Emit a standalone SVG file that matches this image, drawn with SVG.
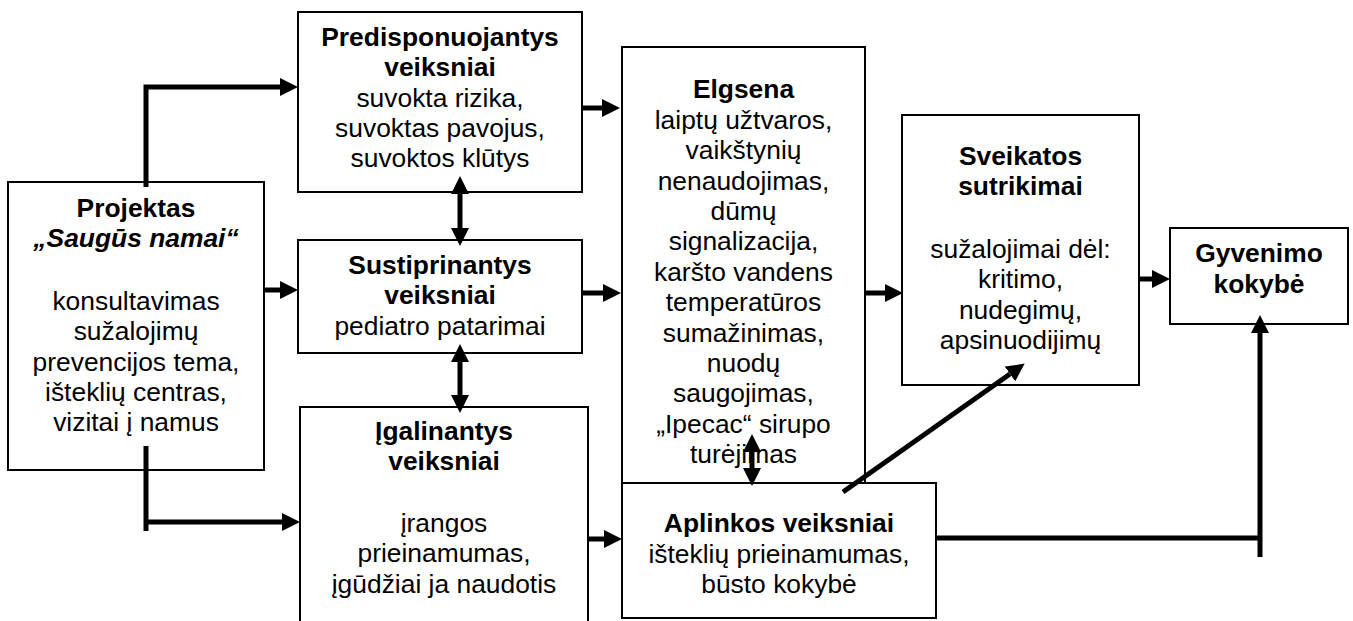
<svg xmlns="http://www.w3.org/2000/svg" width="1353" height="621" viewBox="0 0 1353 621">
  <style>
    .box { fill: #fff; stroke: #000; stroke-width: 2; }
    text { font-family: "Liberation Sans", Arial, sans-serif; font-size: 26.4px; fill: #000; text-anchor: middle; }
    .b { font-weight: bold; }
    .bi { font-weight: bold; font-style: italic; }
    .conn { fill: none; stroke: #000; stroke-width: 5; stroke-linejoin: miter; stroke-linecap: butt; }
  </style>
  <defs>
    <marker id="ah" viewBox="0 0 18 18" markerWidth="18" markerHeight="18" markerUnits="userSpaceOnUse" refX="0" refY="9" orient="auto-start-reverse">
      <path d="M0,0 L18,9 L0,18 z" fill="#000"/>
    </marker>
  </defs>
  <rect width="1353" height="621" fill="#fff"/>

  <g id="projektas">
    <rect class="box" x="8" y="182" width="256" height="288"/>
    <text x="136" y="217" class="b">Projektas</text>
    <text x="136" y="247" class="bi">„Saugūs namai“</text>
    <text x="136" y="310">konsultavimas</text>
    <text x="136" y="340">sužalojimų</text>
    <text x="136" y="371">prevencijos tema,</text>
    <text x="136" y="401">išteklių centras,</text>
    <text x="136" y="431">vizitai į namus</text>
  </g>

  <g id="predisponuojantys">
    <rect class="box" x="298" y="12" width="284" height="180"/>
    <text x="440" y="46" class="b">Predisponuojantys</text>
    <text x="440" y="76" class="b">veiksniai</text>
    <text x="440" y="107">suvokta rizika,</text>
    <text x="440" y="137">suvoktas pavojus,</text>
    <text x="440" y="167">suvoktos klūtys</text>
  </g>

  <g id="sustiprinantys">
    <rect class="box" x="298" y="240" width="284" height="113"/>
    <text x="440" y="274" class="b">Sustiprinantys</text>
    <text x="440" y="304" class="b">veiksniai</text>
    <text x="440" y="335">pediatro patarimai</text>
  </g>

  <g id="igalinantys">
    <rect class="box" x="300" y="407" width="288" height="220"/>
    <text x="444" y="440" class="b">Įgalinantys</text>
    <text x="444" y="470" class="b">veiksniai</text>
    <text x="444" y="532">įrangos</text>
    <text x="444" y="562">prieinamumas,</text>
    <text x="444" y="593">įgūdžiai ja naudotis</text>
  </g>

  <g id="elgsena">
    <rect class="box" x="622" y="47" width="243" height="436"/>
    <text x="743.5" y="98" class="b">Elgsena</text>
    <text x="743.5" y="129">laiptų užtvaros,</text>
    <text x="743.5" y="159">vaikštynių</text>
    <text x="743.5" y="190">nenaudojimas,</text>
    <text x="743.5" y="220">dūmų</text>
    <text x="743.5" y="250">signalizacija,</text>
    <text x="743.5" y="281">karšto vandens</text>
    <text x="743.5" y="311">temperatūros</text>
    <text x="743.5" y="342">sumažinimas,</text>
    <text x="743.5" y="372">nuodų</text>
    <text x="743.5" y="402">saugojimas,</text>
    <text x="743.5" y="433">„Ipecac“ sirupo</text>
    <text x="743.5" y="463">turėjimas</text>
  </g>

  <g id="aplinkos">
    <rect class="box" x="622" y="483" width="314" height="135"/>
    <text x="779" y="532" class="b">Aplinkos veiksniai</text>
    <text x="779" y="563">išteklių prieinamumas,</text>
    <text x="779" y="593">būsto kokybė</text>
  </g>

  <g id="sveikatos">
    <rect class="box" x="902" y="115" width="237" height="270"/>
    <text x="1020.5" y="165" class="b">Sveikatos</text>
    <text x="1020.5" y="195" class="b">sutrikimai</text>
    <text x="1020.5" y="258">sužalojimai dėl:</text>
    <text x="1020.5" y="288">kritimo,</text>
    <text x="1020.5" y="319">nudegimų,</text>
    <text x="1020.5" y="349">apsinuodijimų</text>
  </g>

  <g id="gyvenimo">
    <rect class="box" x="1170" y="228" width="178" height="96"/>
    <text x="1259" y="262" class="b">Gyvenimo</text>
    <text x="1259" y="293" class="b">kokybė</text>
  </g>

  <g id="connectors">
    <!-- project to the three factor groups -->
    <path class="conn" d="M146,187 V87 H280" marker-end="url(#ah)"/>
    <path class="conn" d="M264,290 H280" marker-end="url(#ah)"/>
    <path class="conn" d="M146,446 V531"/>
    <path class="conn" d="M146,522 H282" marker-end="url(#ah)"/>
    <!-- factors to behaviour / environment -->
    <path class="conn" d="M582,108 H602" marker-end="url(#ah)"/>
    <path class="conn" d="M582,293 H603" marker-end="url(#ah)"/>
    <path class="conn" d="M588,539 H604" marker-end="url(#ah)"/>
    <!-- two-way links -->
    <path class="conn" d="M460,194 V228" marker-start="url(#ah)" marker-end="url(#ah)"/>
    <path class="conn" d="M460,362 V395" marker-start="url(#ah)" marker-end="url(#ah)"/>
    <path class="conn" d="M752,452 V468" marker-start="url(#ah)" marker-end="url(#ah)"/>
    <!-- towards health outcomes and quality of life -->
    <path class="conn" d="M865,293 H885" marker-end="url(#ah)"/>
    <path class="conn" d="M843,492 L1010,374" marker-end="url(#ah)"/>
    <path class="conn" d="M1139,279 H1152" marker-end="url(#ah)"/>
    <path class="conn" d="M936,538 H1260"/>
    <path class="conn" d="M1260,557 V333" marker-end="url(#ah)"/>
  </g>
</svg>
